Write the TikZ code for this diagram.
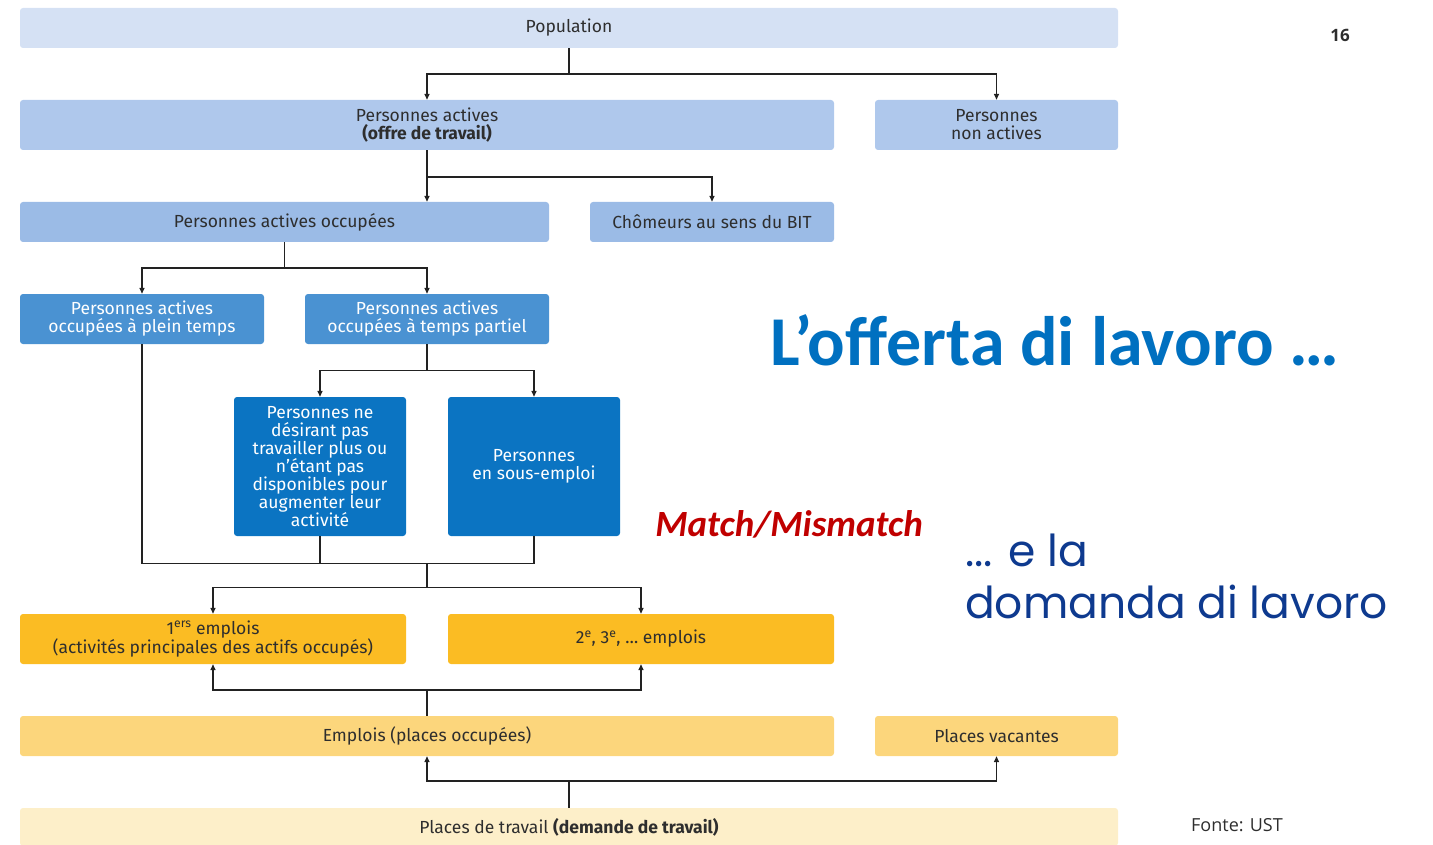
\documentclass[tikz,border=0pt]{standalone}
\usepackage{fontspec}
\setmainfont{Fira Sans}
\newfontfamily\titlefont{Carlito}
\newfontfamily\roundfont{Poppins}
\newfontfamily\notefont{Open Sans}
\usetikzlibrary{arrows.meta}

\definecolor{popblue}{HTML}{D5E1F4}
\definecolor{actblue}{HTML}{AFC8EC}
\definecolor{occblue}{HTML}{9BBBE6}
\definecolor{midblue}{HTML}{4A92D2}
\definecolor{deepblue}{HTML}{0B74C2}
\definecolor{jobgold}{HTML}{FBBC23}
\definecolor{placegold}{HTML}{FCD67C}
\definecolor{demgold}{HTML}{FDEFC9}
\definecolor{boxtext}{HTML}{2E2E2E}
\definecolor{linegray}{HTML}{222222}
\definecolor{offreblue}{HTML}{0070C0}
\definecolor{matchred}{HTML}{C00000}
\definecolor{demblue}{HTML}{0E3A8F}

\begin{document}
\begin{tikzpicture}[x=1pt, y=-1pt,
    box/.style={rectangle, rounded corners=3pt, inner sep=0pt, align=center, text=boxtext, font=\fontsize{17.5}{18}\selectfont},
    link/.style={line width=1.4pt, draw=linegray},
    arrow/.style={link, -{Triangle[length=6pt,width=5pt]}}
]
    \useasboundingbox (0,0) rectangle (1433,845);

    % offre de travail
    \node[box, fill=popblue, minimum width=1098pt, minimum height=40pt] (pop) at (569,28) {Population};
    \node[box, fill=actblue, minimum width=814pt, minimum height=50pt] (act) at (427,125) {Personnes actives\\\textbf{(offre de travail)}};
    \node[box, fill=actblue, minimum width=243pt, minimum height=50pt] (nonact) at (996.5,125) {Personnes\\non actives};
    \node[box, fill=occblue, minimum width=529pt, minimum height=40pt] (occ) at (284.5,222) {Personnes actives occupées};
    \node[box, fill=occblue, minimum width=244pt, minimum height=40pt] (chom) at (712,222) {Chômeurs au sens du BIT};
    \node[box, fill=midblue, text=white, minimum width=244pt, minimum height=50pt] (plein) at (142,319) {Personnes actives\\occupées à plein temps};
    \node[box, fill=midblue, text=white, minimum width=244pt, minimum height=50pt] (partiel) at (427,319) {Personnes actives\\occupées à temps partiel};
    \node[box, fill=deepblue, text=white, minimum width=172pt, minimum height=139pt] (nedes) at (320,466.5) {Personnes ne\\désirant pas\\travailler plus ou\\n’étant pas\\disponibles pour\\augmenter leur\\activité};
    \node[box, fill=deepblue, text=white, minimum width=172pt, minimum height=139pt] (sous) at (534,466.5) {Personnes\\en sous-emploi};

    % demande de travail
    \node[box, fill=jobgold, minimum width=386pt, minimum height=50pt] (first) at (213,639) {1\textsuperscript{ers} emplois\\(activités principales des actifs occupés)};
    \node[box, fill=jobgold, minimum width=386pt, minimum height=50pt] (second) at (641,639) {2\textsuperscript{e}, 3\textsuperscript{e}, … emplois};
    \node[box, fill=placegold, minimum width=814pt, minimum height=40pt] (empl) at (427,736) {Emplois (places occupées)};
    \node[box, fill=placegold, minimum width=243pt, minimum height=40pt] (vac) at (996.5,736) {Places vacantes};
    \node[box, fill=demgold, minimum width=1098pt, minimum height=38pt] (dem) at (569,827) {Places de travail \textbf{(demande de travail)}};

    % connectors
    \draw[link] (pop.south) -- ++(0,26) coordinate (j1);
    \draw[arrow] (j1) -| (act.north);
    \draw[arrow] (j1) -| (nonact.north);
    \draw[link] (act.south) -- ++(0,27) coordinate (j2);
    \draw[arrow] (j2) -- (j2 |- occ.north);
    \draw[arrow] (j2) -| (chom.north);
    \draw[link] (occ.south) -- ++(0,26) coordinate (j3);
    \draw[arrow] (j3) -| (plein.north);
    \draw[arrow] (j3) -| (partiel.north);
    \draw[link] (partiel.south) -- ++(0,26) coordinate (j4);
    \draw[arrow] (j4) -| (nedes.north);
    \draw[arrow] (j4) -| (sous.north);
    \draw[link] (plein.south) -- ++(0,219) coordinate (m0) -| (sous.south);
    \draw[link] (nedes.south) -- (nedes.south |- m0);
    \draw[link] (partiel.south |- m0) -- ++(0,24) coordinate (j5);
    \draw[arrow] (j5) -| (first.north);
    \draw[arrow] (j5) -| (second.north);
    \draw[link] (empl.north) -- ++(0,-26) coordinate (j6);
    \draw[arrow] (j6) -| (first.south);
    \draw[arrow] (j6) -| (second.south);
    \draw[link] (dem.north) -- ++(0,-27) coordinate (j7);
    \draw[arrow] (j7) -| (empl.south);
    \draw[arrow] (j7) -| (vac.south);

    % slide texts
    \node[font=\notefont\bfseries\fontsize{17}{17}\selectfont, text=boxtext] (page) at (1340,35) {16};
    \node[anchor=base west, inner sep=0pt, text=offreblue, font=\titlefont\bfseries\fontsize{70}{70}\selectfont] (offre) at (770,365) {L’offerta di lavoro …};
    \node[inner sep=0pt, text=matchred, font=\titlefont\bfseries\itshape\fontsize{37}{37}\selectfont] (match) at (789,524) {Match/Mismatch};
    \node[anchor=base west, inner sep=0pt, text=demblue, font=\roundfont\fontsize{44}{44}\selectfont] (ela) at (965,566) {... e la};
    \node[anchor=base west, inner sep=0pt, text=demblue, font=\roundfont\fontsize{44}{44}\selectfont] (dom) at (965,618) {domanda di lavoro};
    \node[font=\notefont\fontsize{18}{18}\selectfont, text=boxtext] (fonte) at (1237,825) {Fonte: UST};
\end{tikzpicture}
\end{document}
